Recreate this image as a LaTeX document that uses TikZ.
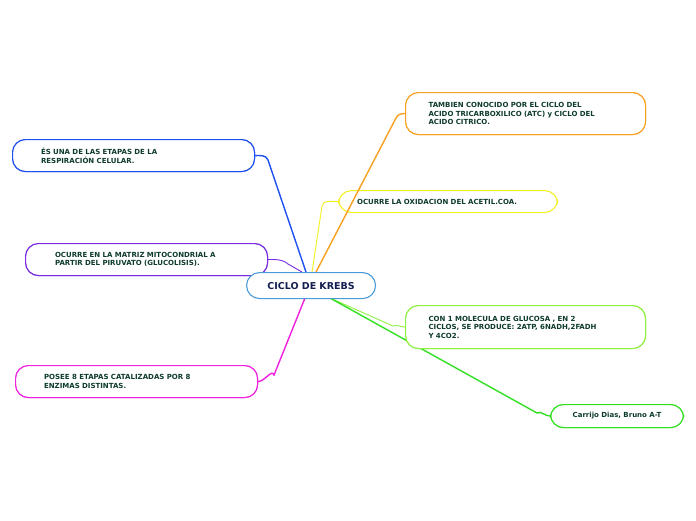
\documentclass[tikz,border=0pt]{standalone}
\usepackage{fontspec}
\setmainfont{DejaVu Sans}
\begin{document}
\begin{tikzpicture}[x=1pt,y=-1pt,
  box/.style={draw,line width=1.1pt,rounded corners=13pt,fill=white,anchor=north west,text=txt,font=\bfseries\fontsize{7}{8.6}\selectfont,align=left,inner sep=0pt},
  edge/.style={line width=1.4pt}]
\definecolor{txt}{HTML}{0E3B2E}
\definecolor{cblue}{HTML}{1E50F0}
\definecolor{cpur}{HTML}{7A2BE0}
\definecolor{cmag}{HTML}{F020E0}
\definecolor{corg}{HTML}{F8A020}
\definecolor{cyel}{HTML}{F2F020}
\definecolor{clime}{HTML}{90F040}
\definecolor{cgrn}{HTML}{30E020}
\definecolor{croot}{HTML}{4A9AD8}
\useasboundingbox (0,0) rectangle (696,520);
% nodes (boxes)
\node[box,draw=cblue,minimum width=242pt,minimum height=32pt,text width=223pt] (b) at (12,139) {\hspace*{19pt}ÉS UNA DE LAS ETAPAS DE LA\\\hspace*{19pt}RESPIRACIÓN CELULAR.};
\node[box,draw=cpur,minimum width=242pt,minimum height=32pt,text width=223pt] (p) at (25,243) {\hspace*{20pt}OCURRE EN LA MATRIZ MITOCONDRIAL A\\\hspace*{20pt}PARTIR DEL PIRUVATO (GLUCOLISIS).};
\node[box,draw=cmag,minimum width=242pt,minimum height=32pt,text width=223pt] (m) at (15,365) {\hspace*{19pt}POSEE 8 ETAPAS CATALIZADAS POR 8\\\hspace*{19pt}ENZIMAS DISTINTAS.};
\node[box,draw=corg,minimum width=240pt,minimum height=42pt,text width=230pt] (o) at (405,92) {\hspace*{18pt}TAMBIEN CONOCIDO POR EL CICLO DEL\\\hspace*{18pt}ACIDO TRICARBOXILICO (ATC) y CICLO DEL\\\hspace*{18pt}ACIDO CITRICO.};
\node[box,draw=cyel,minimum width=219pt,minimum height=22pt,text width=210pt] (y) at (338,190) {\hspace*{14pt}OCURRE LA OXIDACION DEL ACETIL.COA.};
\node[box,draw=clime,minimum width=240pt,minimum height=43pt,text width=230pt] (l) at (405,305) {\hspace*{18pt}CON 1 MOLECULA DE GLUCOSA , EN 2\\\hspace*{18pt}CICLOS, SE PRODUCE: 2ATP, 6NADH,2FADH\\\hspace*{18pt}Y 4CO2.};
\node[box,draw=cgrn,minimum width=133pt,minimum height=23pt,align=center,text width=133pt] (g) at (550,404) {Carrijo Dias, Bruno A-T};
% edges
\coordinate (r1) at (306,272);
\coordinate (r2) at (316,272);
\coordinate (r3) at (312,272);
\coordinate (r4) at (302,272);
\coordinate (r5) at (305,298);
\coordinate (r6) at (330,298);
\begin{scope}[on background layer/.style={}]
\draw[edge,cblue] (r1) -- (268,160) to[out=110,in=0] (b.east);
\draw[edge,cpur,line width=0.9pt] (r4) -- (288,264) to[out=140,in=0] (p.east);
\draw[edge,cmag] (r5) -- (274,375) to[out=110,in=0] (m.east);
\draw[edge,corg] (r2) -- (396,118) to[out=65,in=180] (o.west);
\draw[edge,cyel,line width=0.9pt] (r3) -- (322,206) to[out=80,in=180] (y.west);
\draw[edge,clime,line width=0.9pt] (r6) -- (393,326) to[out=20,in=180] (l.west);
\draw[edge,cgrn] (r6) -- (537,413) to[out=25,in=180] (g.west);
\end{scope}
% redraw boxes on top
\node[box,draw=cblue,minimum width=242pt,minimum height=32pt,text width=223pt] at (12,139) {\hspace*{19pt}ÉS UNA DE LAS ETAPAS DE LA\\\hspace*{19pt}RESPIRACIÓN CELULAR.};
\node[box,draw=cpur,minimum width=242pt,minimum height=32pt,text width=223pt] at (25,243) {\hspace*{20pt}OCURRE EN LA MATRIZ MITOCONDRIAL A\\\hspace*{20pt}PARTIR DEL PIRUVATO (GLUCOLISIS).};
\node[box,draw=cmag,minimum width=242pt,minimum height=32pt,text width=223pt] at (15,365) {\hspace*{19pt}POSEE 8 ETAPAS CATALIZADAS POR 8\\\hspace*{19pt}ENZIMAS DISTINTAS.};
\node[box,draw=corg,minimum width=240pt,minimum height=42pt,text width=230pt] at (405,92) {\hspace*{18pt}TAMBIEN CONOCIDO POR EL CICLO DEL\\\hspace*{18pt}ACIDO TRICARBOXILICO (ATC) y CICLO DEL\\\hspace*{18pt}ACIDO CITRICO.};
\node[box,draw=clime,minimum width=240pt,minimum height=43pt,text width=230pt] at (405,305) {\hspace*{18pt}CON 1 MOLECULA DE GLUCOSA , EN 2\\\hspace*{18pt}CICLOS, SE PRODUCE: 2ATP, 6NADH,2FADH\\\hspace*{18pt}Y 4CO2.};
\node[box,draw=cgrn,minimum width=133pt,minimum height=23pt,align=center,text width=133pt] at (550,404) {Carrijo Dias, Bruno A-T};
\node[box,draw=croot,minimum width=129pt,minimum height=26pt,align=center,text width=129pt,text={rgb,255:red,20;green,30;blue,80},font=\bfseries\fontsize{9.5}{11}\selectfont] (root) at (246,272) {CICLO DE KREBS};
\end{tikzpicture}
\end{document}
